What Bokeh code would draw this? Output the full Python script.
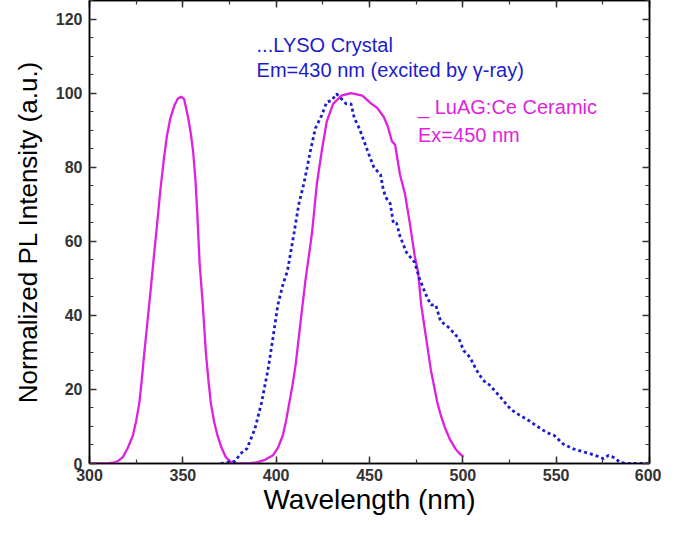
from bokeh.plotting import figure
from bokeh.models import LinearAxis, SingleIntervalTicker, Range1d, Label, CustomJSTickFormatter
from bokeh.embed import file_html
from bokeh.resources import INLINE

# LuAG:Ce ceramic (excitation + emission, Ex=450 nm)
luag_x = [300, 305, 310, 312.7, 315, 318, 320.5, 323.2, 325, 326.7, 328, 329.3, 331, 332.8,
          334.5, 336.3, 338, 339.8, 341.5, 343.3, 345.5, 347.3, 349, 350.7, 352.9, 354.3,
          355.5, 356.7, 357.7, 359, 360.7, 362.4, 363.7, 365, 366.8, 368.6, 370.7, 372.9,
          375, 377.3, 380.8, 385, 389.5, 394, 398.3, 401, 403.5, 405.3, 407, 408.8, 410.5,
          413.1, 415.7, 417.5, 419.2, 421.8, 424.4, 427.1, 430.5, 434.9, 440.1, 446.2, 450.6,
          454.1, 457.6, 459.8, 462, 463.7, 466.3, 469, 471.6, 474.2, 476, 477.7, 480.3, 482.9,
          486.4, 488.5, 490.7, 493.3, 496, 498.2, 500.4]
luag_y = [0, 0, 0.1, 0.2, 0.6, 1.8, 4.2, 7.5, 11.5, 16.3, 22.5, 29.6, 38, 47,
          56, 65, 74, 82, 88.5, 93.2, 96.7, 98.5, 99, 98.4, 93.2, 89,
          84.3, 77, 68, 54, 42.8, 29.6, 22.5, 16.3, 11.2, 7.5, 4.3, 1.8,
          0.6, 0.1, 0, 0, 0.3, 1.0, 2.2, 4.3, 7.5, 11.5, 16.3, 21.3, 26.9,
          38.4, 49.5, 56, 62.3, 75.5, 84.3, 92.3, 97.1, 99.3, 100, 99.3, 97.3,
          96, 93.6, 91, 87, 86.1, 78.1, 72.8, 64.9, 56.1, 51.7, 42.8, 34, 25.2,
          16.3, 12.5, 9.3, 6.3, 4, 2.7, 1.8]

# LYSO crystal (Em=430 nm, excited by gamma-ray)
lyso_x = [370.3, 375.5, 378, 380.8, 384.3, 388.6, 392.1, 395.6, 398.3, 400.9, 403.5, 406.1,
          409.6, 412.2, 414.8, 416.6, 418.3, 421, 424.4, 427.1, 429.7, 432.3, 434.9, 437.5,
          440.1, 441.9, 444.5, 447.1, 449.7, 452.4, 455.9, 457.2, 458.5, 461.1, 462.8, 464.5,
          466.3, 469.8, 474.2, 476.8, 480.3, 482.9, 485.5, 488.1, 491.6, 495.1, 498, 500.4,
          503.8, 507.3, 510.8, 514.3, 519.5, 525.7, 530, 534.4, 539.6, 544.8, 549.2, 553.6,
          558.8, 565, 571, 575.4, 578, 581.5, 584.1, 588.5, 595, 599]
lyso_y = [0, 0.4, 0.6, 2.6, 4, 9.3, 16.3, 25.2, 34, 42.8, 48.1, 52.1,
          62.3, 70.2, 75.5, 79.9, 84.3, 90.5, 94, 97.6, 98, 99.8, 98.5, 97.1,
          97.1, 93.2, 90.5, 87, 83.4, 79.9, 78, 74.5, 72, 70.2, 64.9, 64.9,
          61.4, 57, 54.3, 49.9, 45.5, 42.8, 42.8, 38.4, 37.1, 35.3, 33.6, 30.5,
          28.7, 25.2, 22.5, 21.2, 18.3, 14.6, 13.2, 11.9, 10.1, 8.4, 7.5, 5.3,
          4, 3.1, 2.2, 1.3, 2.2, 1.5, 0.3, 0, 0, 0]

x_ticks_interval = 50
y_ticks_interval = 20

MAGENTA = "#e01fe0"
BLUE = "#1c1ccc"

p = figure(width=661, height=517, output_backend="svg", toolbar_location=None,
           x_range=Range1d(300, 600), y_range=Range1d(0, 125),
           x_axis_label="Wavelength (nm)", y_axis_label="Normalized PL Intensity (a.u.)",
           min_border_left=89, min_border_right=12, min_border_top=0, min_border_bottom=0)
p.grid.visible = False
p.outline_line_color = "black"
p.outline_line_width = 1.5
p.background_fill_color = "white"
p.border_fill_color = "white"

bottom = p.below[0]
left = p.left[0]
bottom.ticker = SingleIntervalTicker(interval=x_ticks_interval, num_minor_ticks=2)
left.ticker = SingleIntervalTicker(interval=y_ticks_interval, num_minor_ticks=4)

blank = CustomJSTickFormatter(code="return '';")
top_ax = LinearAxis(ticker=SingleIntervalTicker(interval=x_ticks_interval, num_minor_ticks=2),
                    formatter=blank)
right_ax = LinearAxis(ticker=SingleIntervalTicker(interval=y_ticks_interval, num_minor_ticks=4),
                      formatter=blank)
for ax in (top_ax, right_ax):
    ax.major_label_standoff = 0
    ax.major_label_text_font_size = "2px"
p.add_layout(top_ax, "above")
p.add_layout(right_ax, "right")

for ax in (bottom, left, top_ax, right_ax):
    ax.axis_line_color = "black"
    ax.axis_line_width = 1.5
    ax.major_tick_in = 7
    ax.major_tick_out = 0
    ax.minor_tick_in = 4
    ax.minor_tick_out = 0
    ax.major_tick_line_color = "#333333"
    ax.minor_tick_line_color = "#333333"
    ax.major_tick_line_width = 1.5
    ax.minor_tick_line_width = 1.2

for ax in (bottom, left):
    ax.major_label_text_font = "Liberation Sans"
    ax.major_label_text_font_size = "16px"
    ax.major_label_text_font_style = "bold"
    ax.major_label_text_color = "#333333"
    ax.axis_label_text_font = "Liberation Sans"
    ax.axis_label_text_font_style = "normal"
    ax.axis_label_text_color = "black"

bottom.major_label_standoff = 5
bottom.axis_label_standoff = 0
bottom.axis_label_text_font_size = "28px"
left.major_label_standoff = 7
left.axis_label_standoff = 10
left.axis_label_text_font_size = "26px"

p.line(luag_x, luag_y, line_color=MAGENTA, line_width=2.3)
p.line(lyso_x, lyso_y, line_color=BLUE, line_width=2.8, line_dash="3 3")

labels = [
    ("...LYSO Crystal", 389.5, 113, BLUE),
    ("Em=430 nm (excited by \u03b3-ray)", 389.5, 106.2, BLUE),
    ("_ LuAG:Ce Ceramic", 476, 96.2, MAGENTA),
    ("Ex=450 nm", 476, 88.7, MAGENTA),
]
for t, lx, ly, c in labels:
    p.add_layout(Label(x=lx, y=ly, text=t, text_color=c, text_font="Liberation Sans",
                       text_font_size="20px", text_baseline="middle", text_align="left"))

open("out.html", "w").write(file_html(p, INLINE))
